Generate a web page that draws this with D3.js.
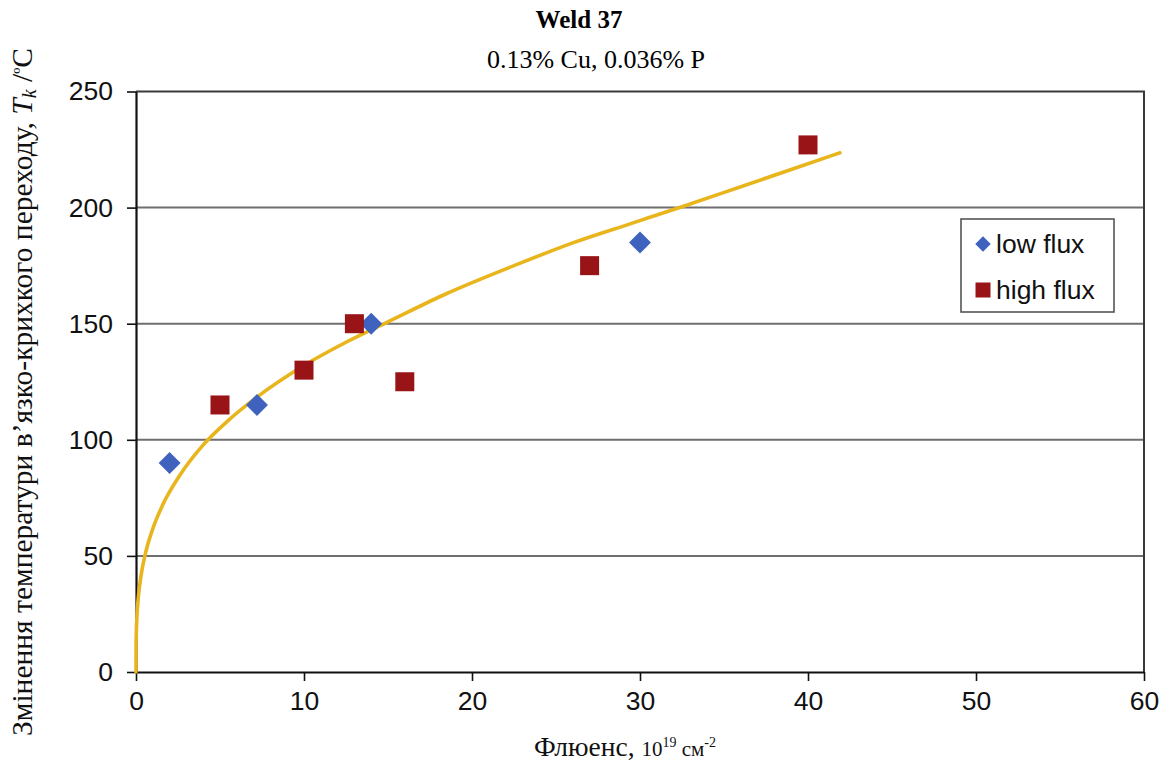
<!DOCTYPE html>
<html>
<head>
<meta charset="utf-8">
<script src="https://cdn.jsdelivr.net/npm/d3@7"></script>
<style>
  html, body { margin: 0; padding: 0; background: #fff; }
  svg { display: block; }
</style>
</head>
<body>
<svg id="chart" width="1175" height="765"></svg>
<script>
// ---- data ----
const lowFluxX = [2, 7.2, 14, 30];
const lowFluxY = [90, 115, 150, 185];
const highFluxX = [5, 10, 13, 16, 27, 40];
const highFluxY = [115, 130, 150, 125, 175, 227];
// fitted trend curve
const curveX = [0, 0.005, 0.02, 0.06, 0.15, 0.3, 0.54, 1, 1.6, 2.6, 4, 5.5, 7.2, 10, 12.5, 15, 18.5, 22.5, 26, 29.5, 32.5, 36, 39, 41.9];
const curveY = [0, 10.7, 17, 24.4, 33, 41.5, 50.4, 61.7, 72.1, 84.6, 97.8, 108.4, 118.4, 132, 142, 150.8, 163, 175, 184.8, 193.2, 200.4, 209, 216.4, 223.6];
const xTicks = [0, 10, 20, 30, 40, 50, 60];
const yTicks = [0, 50, 100, 150, 200, 250];
const legendLabels = ["low flux", "high flux"];
const titleText = "Weld 37";
const subtitleText = "0.13% Cu, 0.036% P";

// ---- layout ----
const W = 1175, H = 765;
const margin = { left: 136, right: 31, top: 91.5, bottom: 93 };
const svg = d3.select("#chart");

const x = d3.scaleLinear().domain([0, 60]).range([margin.left, W - margin.right]);
const y = d3.scaleLinear().domain([0, 250]).range([H - margin.bottom, margin.top]);

const blue = "#3f62bf", red = "#981417", gold = "#e8b51c";
const serif = "'Liberation Serif', 'Times New Roman', serif";
const sans = "Arial, 'Liberation Sans', sans-serif";

// gridlines
svg.append("g").selectAll("line")
  .data(yTicks.filter(t => t > 0 && t < 250))
  .join("line")
  .attr("x1", x(0)).attr("x2", x(60))
  .attr("y1", d => y(d)).attr("y2", d => y(d))
  .attr("stroke", "#6f6f6f").attr("stroke-width", 2);

// frame top/right
svg.append("path")
  .attr("d", `M${x(0)},${y(250)}H${x(60)}V${y(0)}`)
  .attr("fill", "none").attr("stroke", "#3a3a3a").attr("stroke-width", 2);

// axes
const yAxis = svg.append("g")
  .attr("transform", `translate(${x(0)},0)`)
  .call(d3.axisLeft(y).tickValues(yTicks).tickSize(9).tickPadding(14).tickSizeOuter(0));
const xAxis = svg.append("g")
  .attr("transform", `translate(0,${y(0)})`)
  .call(d3.axisBottom(x).tickValues(xTicks).tickSize(9).tickPadding(10).tickSizeOuter(0));
[yAxis, xAxis].forEach(g => {
  g.select(".domain").attr("stroke", "#111").attr("stroke-width", 2.2);
  g.selectAll(".tick line").attr("stroke", "#111").attr("stroke-width", 1.6);
  g.selectAll(".tick text")
    .attr("fill", "#111")
    .style("font-family", sans)
    .style("font-size", "26.5px");
});

// trend curve
const curvePts = curveX.map((v, i) => [v, curveY[i]]);
svg.append("path")
  .datum(curvePts)
  .attr("d", d3.line().x(d => x(d[0])).y(d => y(d[1])).curve(d3.curveMonotoneX))
  .attr("fill", "none").attr("stroke", gold).attr("stroke-width", 3.6)
  .attr("stroke-linecap", "round");

// markers
const lowPts = lowFluxX.map((v, i) => [v, lowFluxY[i]]);
const highPts = highFluxX.map((v, i) => [v, highFluxY[i]]);
const sq = d3.symbol(d3.symbolSquare, 19 * 19);
const dia = d3.symbol(d3.symbolSquare, 15.5 * 15.5);

svg.append("g").selectAll("path")
  .data(lowPts).join("path")
  .attr("d", dia)
  .attr("transform", d => `translate(${x(d[0])},${y(d[1])}) rotate(45)`)
  .attr("fill", blue);

svg.append("g").selectAll("path")
  .data(highPts).join("path")
  .attr("d", sq)
  .attr("transform", d => `translate(${x(d[0])},${y(d[1])})`)
  .attr("fill", red);

// legend
const lg = svg.append("g");
lg.append("rect")
  .attr("x", 961).attr("y", 219).attr("width", 153).attr("height", 93)
  .attr("fill", "#fff").attr("stroke", "#555").attr("stroke-width", 1.6);
const legendSyms = [
  { sym: d3.symbol(d3.symbolSquare, 11 * 11), rot: 45, color: blue },
  { sym: d3.symbol(d3.symbolSquare, 15 * 15), rot: 0, color: red }
];
legendLabels.forEach((lab, i) => {
  const cy = 244 + i * 46;
  lg.append("path")
    .attr("d", legendSyms[i].sym)
    .attr("transform", `translate(983,${cy}) rotate(${legendSyms[i].rot})`)
    .attr("fill", legendSyms[i].color);
  lg.append("text")
    .attr("x", 996).attr("y", cy + 9)
    .text(lab)
    .attr("fill", "#111")
    .style("font-family", sans)
    .style("font-size", "26.5px");
});

// titles
svg.append("text")
  .attr("x", 579).attr("y", 28).attr("text-anchor", "middle")
  .style("font-family", serif)
  .style("font-size", "25px").style("font-weight", "bold")
  .text(titleText);
svg.append("text")
  .attr("x", 596).attr("y", 68).attr("text-anchor", "middle")
  .style("font-family", serif)
  .style("font-size", "26px")
  .text(subtitleText);

// x label
const xl = svg.append("text")
  .attr("x", 625).attr("y", 756).attr("text-anchor", "middle")
  .style("font-family", serif)
  .style("font-size", "27.5px").attr("fill", "#111");
xl.append("tspan").text("Флюенс, ");
xl.append("tspan").text("10").style("font-size", "21px");
xl.append("tspan").text("19").style("font-size", "14px").attr("dy", -9);
xl.append("tspan").text(" см").style("font-size", "21px").attr("dy", 9);
xl.append("tspan").text("-2").style("font-size", "14px").attr("dy", -9);

// y label
const yl = svg.append("text")
  .attr("transform", `translate(32,392) rotate(-90)`)
  .attr("text-anchor", "middle")
  .style("font-family", serif)
  .style("font-size", "29.5px").attr("fill", "#111");
yl.append("tspan").text("Змінення температури в’язко-крихкого переходу, ");
yl.append("tspan").text("T").style("font-style", "italic");
yl.append("tspan").text("k").style("font-style", "italic").style("font-size", "20px").attr("dy", 4);
yl.append("tspan").text(" /").attr("dy", -4);
yl.append("tspan").text("º").style("font-size", "20px").attr("dy", -5);
yl.append("tspan").text("C").attr("dy", 5);
</script>
</body>
</html>
